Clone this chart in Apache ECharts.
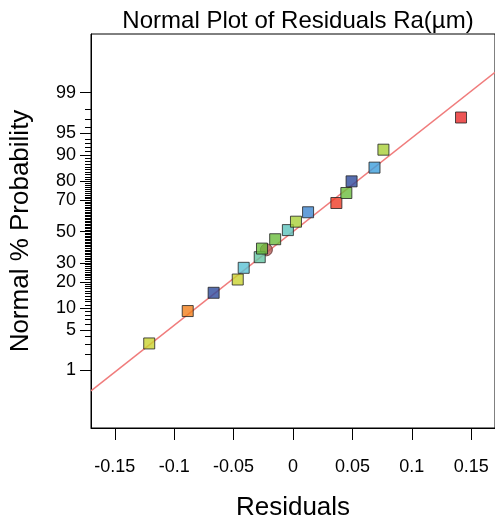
<!DOCTYPE html>
<html>
<head>
<meta charset="utf-8">
<script src="https://cdn.jsdelivr.net/npm/echarts@6/dist/echarts.min.js"></script>
<style>
html,body{margin:0;padding:0;background:#fff;}
#main{width:495px;height:526px;}
</style>
</head>
<body>
<div id="main"></div>
<script>
// ---- data ----
var residuals = [-0.121, -0.0886, -0.0668, -0.0465, -0.0415, -0.028, -0.0261, -0.0150, -0.0043, 0.0025, 0.0127, 0.0365, 0.0449, 0.0493, 0.0686, 0.0761, 0.1414];
var probabilities = [3.05, 9.16, 15.27, 21.1, 27.2, 33.4, 38.8, 44.9, 51.0, 56.6, 62.7, 68.4, 74.1, 80.0, 85.8, 91.5, 97.2];
var pointColors = ['#c9d330', '#f3801c', '#2d4a9c', '#c9d330', '#5ac2d4', '#62c6a4', '#6abd3c', '#6abd3c', '#5cc3bd', '#a9cf38', '#3f86cf', '#ee3b25', '#6abd3c', '#2d4a9c', '#3c9fdc', '#a9cf38', '#e82a2a'];
var circleResidual = [-0.0224];
var circleProbability = [38.0];
var fitResiduals = [-0.17, 0.17];
var fitProbabilities = [0.38, 99.62];
var probTickLabels = [1, 5, 10, 20, 30, 50, 70, 80, 90, 95, 99];
var residualTicks = [-0.15, -0.1, -0.05, 0, 0.05, 0.1, 0.15];

// inverse normal CDF (probability scale)
function probit(p) {
  var a = [-3.969683028665376e+01, 2.209460984245205e+02, -2.759285104469687e+02, 1.383577518672690e+02, -3.066479806614716e+01, 2.506628277459239e+00];
  var b = [-5.447609879822406e+01, 1.615858368580409e+02, -1.556989798598866e+02, 6.680131188771972e+01, -1.328068155288572e+01];
  var c = [-7.784894002430293e-03, -3.223964580411365e-01, -2.400758277161838e+00, -2.549732539343734e+00, 4.374664141464968e+00, 2.938163982698783e+00];
  var d = [7.784695709041462e-03, 3.224671290700398e-01, 2.445134137142996e+00, 3.754408661907416e+00];
  var pl = 0.02425, q, r;
  if (p < pl) {
    q = Math.sqrt(-2 * Math.log(p));
    return (((((c[0]*q+c[1])*q+c[2])*q+c[3])*q+c[4])*q+c[5]) / ((((d[0]*q+d[1])*q+d[2])*q+d[3])*q+1);
  } else if (p <= 1 - pl) {
    q = p - 0.5; r = q * q;
    return (((((a[0]*r+a[1])*r+a[2])*r+a[3])*r+a[4])*r+a[5])*q / (((((b[0]*r+b[1])*r+b[2])*r+b[3])*r+b[4])*r+1);
  } else {
    q = Math.sqrt(-2 * Math.log(1 - p));
    return -(((((c[0]*q+c[1])*q+c[2])*q+c[3])*q+c[4])*q+c[5]) / ((((d[0]*q+d[1])*q+d[2])*q+d[3])*q+1);
  }
}
function z(pct) { return probit(pct / 100); }

var majorZ = probTickLabels.map(z);
var minorZ = [];
for (var k = 2; k <= 98; k++) {
  if (probTickLabels.indexOf(k) < 0) minorZ.push(z(k));
}

var font = '"Liberation Sans", Arial, Helvetica, sans-serif';

var squares = residuals.map(function (r, i) {
  return { value: [r, z(probabilities[i])], itemStyle: { color: pointColors[i] } };
});
var circle = circleResidual.map(function (r, i) { return [r, z(circleProbability[i])]; });
var fit = fitResiduals.map(function (r, i) { return [r, z(fitProbabilities[i])]; });

var chart = echarts.init(document.getElementById('main'), null, { renderer: 'canvas' });
chart.setOption({
  backgroundColor: '#ffffff',
  animation: false,
  title: {
    text: 'Normal Plot of Residuals Ra(\u00b5m)',
    left: 293, top: 4, textAlign: 'center',
    textStyle: { fontFamily: font, fontSize: 24, fontWeight: 'normal', color: '#000' }
  },
  grid: { left: 90, top: 34, right: -4, bottom: 97, show: true, borderColor: '#000', borderWidth: 1, backgroundColor: 'transparent' },
  xAxis: {
    type: 'value', min: -0.17, max: 0.17,
    name: 'Residuals', nameLocation: 'middle', nameGap: 67,
    nameTextStyle: { fontFamily: font, fontSize: 26, color: '#000' },
    axisLine: { show: true, onZero: false, lineStyle: { color: '#000', width: 1 } },
    axisTick: { show: true, customValues: residualTicks, length: 12, lineStyle: { color: '#000' } },
    axisLabel: { customValues: residualTicks, margin: 30, fontFamily: font, fontSize: 18, color: '#000',
      formatter: function (v) { return String(Math.round(v * 100) / 100); } },
    splitLine: { show: false }
  },
  yAxis: [{
    type: 'value', min: -3.29, max: 3.31, position: 'left',
    name: 'Normal % Probability', nameLocation: 'middle', nameGap: 57,
    nameTextStyle: { fontFamily: font, fontSize: 26, color: '#000' },
    axisLine: { show: true, onZero: false, lineStyle: { color: '#000', width: 1 } },
    axisTick: { show: true, customValues: majorZ, length: 11, lineStyle: { color: '#000' } },
    axisLabel: { customValues: majorZ, margin: 15, fontFamily: font, fontSize: 18, color: '#000',
      formatter: function (v) {
        var best = 0, bd = 1e9;
        for (var i = 0; i < majorZ.length; i++) { var dd = Math.abs(majorZ[i] - v); if (dd < bd) { bd = dd; best = i; } }
        return String(probTickLabels[best]);
      } },
    splitLine: { show: false }
  }, {
    type: 'value', min: -3.29, max: 3.31, position: 'left',
    axisLine: { show: false, onZero: false },
    axisTick: { show: true, customValues: minorZ, length: 6, lineStyle: { color: '#000' } },
    axisLabel: { show: false },
    splitLine: { show: false }
  }],
  series: [{
    type: 'line', data: fit, yAxisIndex: 0, symbol: 'none', silent: true,
    lineStyle: { color: '#f07c7c', width: 1.5 }, z: 1
  }, {
    type: 'scatter', data: circle, yAxisIndex: 0, symbol: 'circle', symbolSize: 12,
    itemStyle: { color: '#b35a55', borderColor: '#5a2a28', borderWidth: 1 }, z: 2
  }, {
    type: 'scatter', data: squares, yAxisIndex: 0, symbol: 'rect', symbolSize: 11,
    itemStyle: { borderColor: '#222', borderWidth: 1 }, z: 3
  }]
});
</script>
</body>
</html>
